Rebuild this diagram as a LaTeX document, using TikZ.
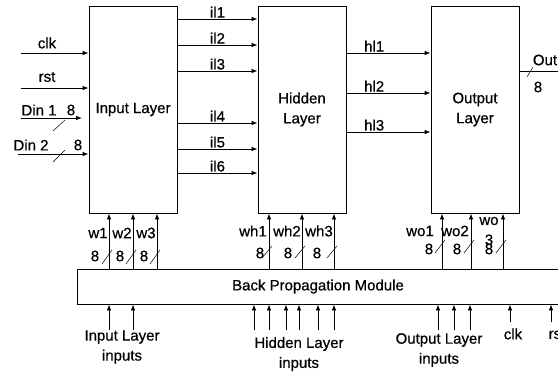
\documentclass[tikz,border=0pt]{standalone}
\usepackage{fontspec}
\setmainfont{Liberation Sans}[FakeBold=0.6]
\usetikzlibrary{arrows.meta}

\begin{document}
\begin{tikzpicture}[x=1pt, y=-1pt, line width=0.8pt,
    >={Latex[length=6pt,width=4.5pt]},
    font=\fontsize{15}{20}\selectfont,
    layer/.style={draw, minimum width=88pt, minimum height=207pt, align=center},
    wire/.style={above, inner sep=1pt},
    bus/.style={line width=0.5pt}]
  \useasboundingbox (0,0) rectangle (558,376);
  \clip (0,0) rectangle (558,376);

  \node[layer] (inl)  at (133,109.5) {Input Layer};
  \node[layer] (hid)  at (302,109.5) {Hidden\\Layer};
  \node[layer] (outl) at (475,109.5) {Output\\Layer};
  \node[draw, minimum width=482pt, minimum height=35pt] (bp) at (318,286.5) {Back Propagation Module};

  % inputs of the input layer
  \coordinate (clk)  at (21,53);
  \coordinate (rst)  at (21,88);
  \coordinate (din1) at (21,118);
  \coordinate (din1end) at (82,118);
  \coordinate (din2) at (18,154);
  \node (clklbl)  at (47,43)  {clk};
  \node (rstlbl)  at (47,77)  {rst};
  \node (din1lbl) at (39,110) {Din 1};
  \node (din1w)   at (71,110) {8};
  \node (din2lbl) at (31,145) {Din 2};
  \node (din2w)   at (78,145) {8};
  \draw[->] (clk)  -- (clk -| inl.west);
  \draw[->] (rst)  -- (rst -| inl.west);
  \draw[->] (din1) -- (din1end);
  \draw[->] (din2) -- (din2 -| inl.west);
  \draw[bus] (53,131) -- (65,120);
  \draw[bus] (53,162) -- (65,150);

  % layer to layer
  \foreach \y/\t in {19/il1,45/il2,71/il3,123/il4,149/il5,173/il6}
    \draw[->] (inl.east |- 0,\y) -- node[wire] {\t} (hid.west |- 0,\y);
  \foreach \y/\t in {53/hl1,93/hl2,132/hl3}
    \draw[->] (hid.east |- 0,\y) -- node[wire, pos=0.33] {\t} (outl.west |- 0,\y);

  % output
  \coordinate (out) at (575,71);
  \draw[->] (outl.east |- out) -- (out);
  \node (outlbl) at (545,60) {Out};
  \node (outw)   at (538,87) {8};
  \draw[bus] (527,77) -- (533,67);

  % weights from the back propagation module
  \foreach \x/\t/\lx/\wx in {109/w1/98/95,133/w2/122/120,157/w3/146/144}{
    \draw[->] (bp.north -| \x,0) -- (inl.south -| \x,0);
    \node at (\lx,233) {\t};
    \node at (\wx,256) {8};
    \draw[bus] (\x-7,264) -- (\x+3,250);
  }
  \foreach \x/\t/\lx/\wx in {269/wh1/253/260,302/wh2/287/288,334/wh3/319/317}{
    \draw[->] (bp.north -| \x,0) -- (hid.south -| \x,0);
    \node at (\lx,231) {\t};
    \node at (\wx,253) {8};
    \draw[bus] (\x-7,258) -- (\x+3,246);
  }
  \foreach \x/\t/\lx/\wx in {442/wo1/420/429,471/wo2/455/457,503/wo\\3/489/489}{
    \draw[->] (bp.north -| \x,0) -- (outl.south -| \x,0);
    \node[align=center] at (\lx,231) {\t};
    \node at (\wx,249) {8};
    \draw[bus] (\x-7,253) -- (\x+3,240);
  }

  % inputs of the back propagation module
  \foreach \x in {109,133,254,269,286,299,318,334,438,454,470}{
    \coordinate (bin\x) at (\x,330);
    \draw[->] (bin\x) -- (bin\x |- bp.south);
  }
  \foreach \x in {510,551}{
    \coordinate (bin\x) at (\x,322);
    \draw[->] (bin\x) -- (bin\x |- bp.south);
  }
  \node[align=center] (inlin) at (122,347) {Input Layer\\inputs};
  \node[align=center] (hidin) at (299,354) {Hidden Layer\\inputs};
  \node[align=center] (outin) at (439,350) {Output Layer\\inputs};
  \node (clkb) at (513,334) {clk};
  \node (rstb) at (557,334) {rst};
\end{tikzpicture}
\end{document}
